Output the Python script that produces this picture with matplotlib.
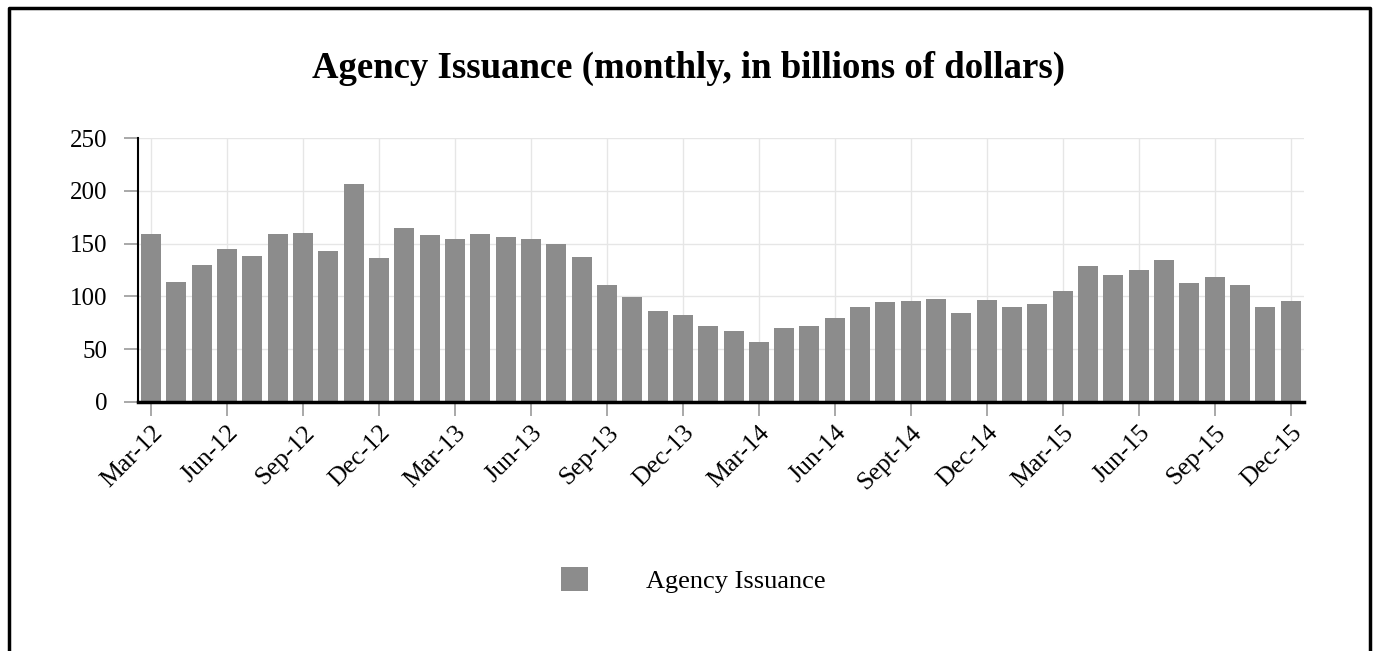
import matplotlib.pyplot as plt
from matplotlib.lines import Line2D

months = ['Mar-12', 'Apr-12', 'May-12', 'Jun-12', 'Jul-12', 'Aug-12', 'Sep-12', 'Oct-12', 'Nov-12', 'Dec-12',
          'Jan-13', 'Feb-13', 'Mar-13', 'Apr-13', 'May-13', 'Jun-13', 'Jul-13', 'Aug-13', 'Sep-13', 'Oct-13',
          'Nov-13', 'Dec-13', 'Jan-14', 'Feb-14', 'Mar-14', 'Apr-14', 'May-14', 'Jun-14', 'Jul-14', 'Aug-14',
          'Sept-14', 'Oct-14', 'Nov-14', 'Dec-14', 'Jan-15', 'Feb-15', 'Mar-15', 'Apr-15', 'May-15', 'Jun-15',
          'Jul-15', 'Aug-15', 'Sep-15', 'Oct-15', 'Nov-15', 'Dec-15']
issuance = [159, 114, 130, 145, 138, 159, 160, 143, 206, 136,
            165, 158, 154, 159, 156, 154, 150, 137, 111, 99,
            86, 82, 72, 67, 57, 70, 72, 80, 90, 95,
            96, 98, 84, 97, 90, 93, 105, 129, 120, 125,
            134, 113, 118, 111, 90, 96]
yticks = [0, 50, 100, 150, 200, 250]

plt.rcParams['font.family'] = ['Liberation Serif', 'DejaVu Serif']

fig = plt.figure(figsize=(13.76, 6.51), dpi=100)
ax = fig.add_axes([0.1003, 0.3825, 0.8477, 0.4055])

x = list(range(len(months)))
ax.bar(x, issuance, width=0.79, color='#8c8c8c', label='Agency Issuance', zorder=2)

ax.set_xlim(-0.52, len(months) - 0.45)
ax.set_ylim(0, 250)
ax.set_yticks(yticks)
ax.set_yticklabels([str(v) for v in yticks], fontsize=18)
tick_pos = x[::3]
ax.set_xticks(tick_pos)
ax.set_xticklabels([months[i] for i in tick_pos], rotation=45, ha='right',
                   rotation_mode='anchor', fontsize=18.5)

ax.grid(True, color='#e6e6e6', linewidth=1, zorder=0)
for s in ['top', 'right']:
    ax.spines[s].set_visible(False)
ax.spines['left'].set_linewidth(1.5)
ax.spines['bottom'].set_linewidth(2.5)
ax.tick_params(axis='both', length=10, color='#999999', width=1.2)
ax.tick_params(axis='y', pad=12)
ax.tick_params(axis='x', pad=4)

fig.text(0.5, 0.8955, 'Agency Issuance (monthly, in billions of dollars)',
         ha='center', va='center', fontsize=26.5, fontweight='bold')

ax.legend(loc='center', bbox_to_anchor=(0.504, 0.109), bbox_transform=fig.transFigure,
          frameon=False, fontsize=19, handlelength=1.0, handleheight=1.0, handletextpad=2.2)

# frame around the figure (left, top, right)
fig.add_artist(Line2D([0.0065, 0.0065, 0.9955, 0.9955], [0.0, 0.988, 0.988, 0.0],
                      color='black', linewidth=2.5, transform=fig.transFigure))

fig.savefig('out.png', dpi=100, facecolor='white')
